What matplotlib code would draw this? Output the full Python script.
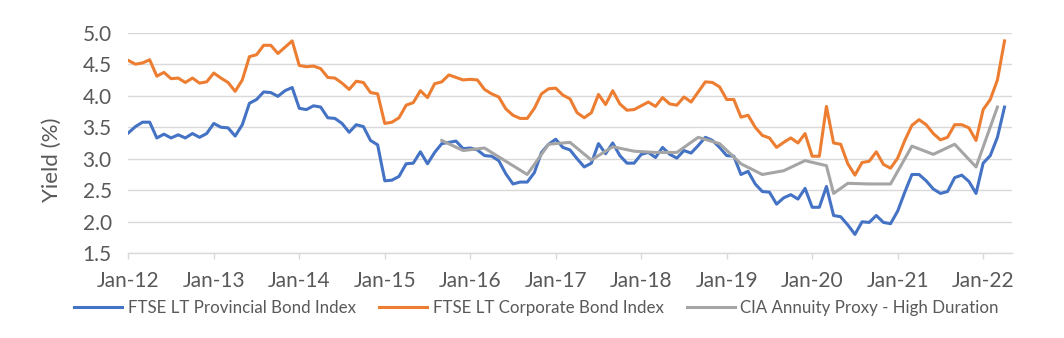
import matplotlib
matplotlib.use("Agg")
import matplotlib.pyplot as plt
import numpy as np

plt.rcParams["font.family"] = ["Lato", "DejaVu Sans"]

# monthly yields, Jan-12 .. Apr-22 (124 months)
provincial = [
    3.41, 3.51, 3.58, 3.58, 3.33, 3.39, 3.33, 3.38, 3.33, 3.40, 3.34, 3.40,
    3.56, 3.50, 3.49, 3.36, 3.54, 3.88, 3.94, 4.06, 4.05, 3.99, 4.08, 4.13,
    3.80, 3.78, 3.84, 3.82, 3.65, 3.64, 3.56, 3.42, 3.54, 3.51, 3.29, 3.22,
    2.65, 2.66, 2.72, 2.92, 2.93, 3.11, 2.92, 3.10, 3.24, 3.26, 3.28, 3.16,
    3.17, 3.14, 3.05, 3.04, 2.97, 2.76, 2.60, 2.63, 2.63, 2.78, 3.10, 3.23,
    3.31, 3.18, 3.14, 3.00, 2.87, 2.93, 3.24, 3.08, 3.25, 3.05, 2.93, 2.93,
    3.07, 3.10, 3.02, 3.18, 3.07, 3.01, 3.13, 3.09, 3.21, 3.34, 3.29, 3.18,
    3.05, 3.04, 2.75, 2.80, 2.60, 2.48, 2.47, 2.28, 2.38, 2.43, 2.36, 2.53,
    2.23, 2.23, 2.56, 2.10, 2.08, 1.95, 1.80, 2.00, 1.99, 2.10, 1.99, 1.97,
    2.17, 2.47, 2.75, 2.75, 2.65, 2.52, 2.45, 2.48, 2.70, 2.74, 2.64, 2.45,
    2.93, 3.05, 3.34, 3.82,
]
corporate = [
    4.56, 4.50, 4.52, 4.57, 4.31, 4.37, 4.27, 4.28, 4.21, 4.28, 4.20, 4.22,
    4.36, 4.28, 4.21, 4.07, 4.25, 4.62, 4.65, 4.80, 4.80, 4.67, 4.77, 4.87,
    4.48, 4.46, 4.47, 4.43, 4.29, 4.28, 4.20, 4.10, 4.23, 4.21, 4.05, 4.03,
    3.56, 3.58, 3.65, 3.85, 3.89, 4.08, 3.97, 4.19, 4.22, 4.33, 4.29, 4.25,
    4.26, 4.25, 4.10, 4.03, 3.98, 3.79, 3.69, 3.64, 3.64, 3.80, 4.03, 4.11,
    4.12, 4.01, 3.95, 3.73, 3.65, 3.73, 4.02, 3.86, 4.08, 3.87, 3.77, 3.78,
    3.84, 3.90, 3.83, 3.97, 3.87, 3.85, 3.98, 3.90, 4.06, 4.22, 4.21, 4.14,
    3.94, 3.94, 3.66, 3.69, 3.50, 3.37, 3.33, 3.18, 3.26, 3.33, 3.25, 3.40,
    3.04, 3.04, 3.83, 3.25, 3.23, 2.92, 2.74, 2.94, 2.96, 3.11, 2.91, 2.85,
    3.01, 3.29, 3.53, 3.62, 3.54, 3.40, 3.30, 3.34, 3.54, 3.54, 3.49, 3.29,
    3.78, 3.94, 4.25, 4.87,
]
# annuity proxy is only published at quarter ends (plus Apr-20)
cia_month = [44, 47, 50, 53, 56, 59, 62, 65, 68, 71, 74, 77, 80, 83, 86, 89,
             92, 95, 98, 99, 101, 104, 107, 110, 113, 116, 119, 122]
cia_proxy = [3.29, 3.13, 3.17, 2.96, 2.75, 3.23, 3.26, 2.98, 3.19, 3.12, 3.10,
             3.10, 3.34, 3.24, 2.92, 2.75, 2.81, 2.97, 2.89, 2.45, 2.61, 2.60,
             2.60, 3.20, 3.07, 3.23, 2.87, 3.82]

year_labels = ["Jan-12", "Jan-13", "Jan-14", "Jan-15", "Jan-16", "Jan-17",
               "Jan-18", "Jan-19", "Jan-20", "Jan-21", "Jan-22"]

TEXT = "#595959"
GRID = "#D9D9D9"

fig = plt.figure(figsize=(10.64, 3.38), dpi=100)
ax = fig.add_axes([0.1206, 0.2506, 0.8302, 0.6527])

month = np.arange(len(provincial))
ax.plot(month, provincial, color="#4472C4", lw=2.2, label="FTSE LT Provincial Bond Index")
ax.plot(month, corporate, color="#ED7D31", lw=2.2, label="FTSE LT Corporate Bond Index")
ax.plot(cia_month, cia_proxy, color="#A5A5A5", lw=2.2, label="CIA Annuity Proxy - High Duration")

ax.set_xlim(0, len(provincial))
ax.set_ylim(1.5, 5.0)
ax.set_yticks(np.arange(1.5, 5.01, 0.5))
ax.set_yticklabels([f"{v:.1f}" for v in np.arange(1.5, 5.01, 0.5)])
ax.set_xticks(np.arange(0, 12 * len(year_labels), 12))
ax.set_xticklabels(year_labels)

ax.grid(axis="y", color=GRID, lw=1.0)
ax.set_axisbelow(True)
for side in ("top", "right", "left"):
    ax.spines[side].set_visible(False)
ax.spines["bottom"].set_color(GRID)
ax.spines["bottom"].set_linewidth(1.0)
ax.tick_params(axis="x", length=4, width=1, color=GRID, labelcolor=TEXT,
               labelsize=15, pad=9)
ax.tick_params(axis="y", length=0, labelcolor=TEXT, labelsize=15, pad=12)

fig.text(52 / 1064, 1 - 160 / 338, "Yield (%)", rotation=90, ha="center",
         va="center", color=TEXT, fontsize=16)

fig.legend(loc="center", bbox_to_anchor=(0.5042, 0.0896), ncol=3,
           frameon=False, fontsize=12.2, labelcolor=TEXT, handlelength=2.83,
           handletextpad=0.34, columnspacing=1.36)

fig.savefig("out.png", dpi=100)
